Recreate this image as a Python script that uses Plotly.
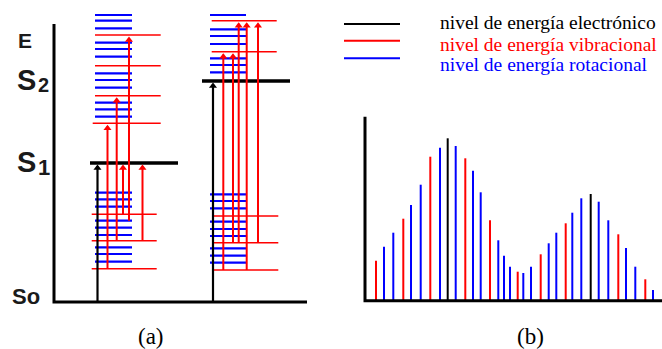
import plotly.graph_objects as go

# ---------------- Panel (a): energy-level diagram ----------------
# energies measured upward from the So baseline (arbitrary units)
electronic_levels = {"S1": 139, "S2": 221}

left_vib_low = [87.7, 61.3, 33.3]
left_vib_high = [267, 236.3, 206.3, 178.7]
left_rot_low = [109.3, 102.7, 95.3, 81.3, 74.3, 67, 54.7, 48, 40.3]
left_rot_high = [287, 281.3, 273.7, 259.3, 253, 245.3, 228.7, 222, 214.3, 199.3, 192.7, 185.3]

right_vib_low = [86, 59.3, 32]
right_vib_high = [281.3, 250.3]
right_rot_low = [107.7, 101, 93.7, 80.3, 73, 66, 53.7, 46.3, 39.3]
right_rot_high = [287, 272.7, 266, 258, 243.7, 237, 229.7]

# transitions: (from energy, to energy)
left_transitions = [(33.3, 178.7), (61.3, 206.3), (87.7, 139), (81.3, 267), (61.3, 139)]
right_transitions = [(32, 250.3), (59.3, 250.3), (59.3, 281.3), (32, 281.3), (59.3, 281.3)]
electronic_transitions = [(0, 139), (0, 221)]

level_labels = ["E", "S", "2", "S", "1", "So"]
panel_labels = ["(a)", "(b)"]

# ---------------- Panel (b): spectrum ----------------
spec_x = [376, 384, 393.3, 403.3, 411, 420.7, 430.3, 440, 447.7, 455.7, 465.3, 473,
          480.7, 490, 498.3, 504, 510, 517.7, 523.3, 531, 540.7, 548.7, 556.3, 565.7,
          572.3, 581.3, 590.7, 598.7, 608.3, 618.3, 626, 635.3, 645.3, 653]
spec_top = [260.7, 246.7, 232.7, 218.7, 205, 184.7, 156.7, 147.7, 138.3, 146, 158.3, 170.7,
            192.3, 220.3, 240.3, 255.7, 266.7, 271.7, 273, 266.7, 254.3, 243.3, 232.7, 223.3,
            212.7, 198.3, 194, 201.7, 220.3, 234.3, 248, 266.7, 279.3, 290]
spec_kind = ["v", "r", "r", "v", "r", "r", "v", "r", "e", "r", "v", "r",
             "r", "v", "r", "r", "r", "v", "r", "r", "v", "r", "r", "v",
             "r", "r", "e", "r", "r", "v", "r", "r", "v", "r"]
SPEC_BASE = 300.7
spec_intensity = [SPEC_BASE - t for t in spec_top]

legend_labels = ["nivel de energía electrónico", "nivel de energía vibracional",
                 "nivel de energía rotacional"]

BLACK, RED, BLUE = "#000000", "#ff0000", "#0000ff"
kind_color = {"e": BLACK, "v": RED, "r": BLUE}

fig = go.Figure()


def segs(levels, x0, x1):
    xs, ys = [], []
    for e in levels:
        xs += [x0, x1, None]
        ys += [e, e, None]
    return xs, ys


def add_lines(xs, ys, color, width, xa="x", ya="y"):
    fig.add_trace(go.Scatter(x=xs, y=ys, mode="lines", xaxis=xa, yaxis=ya,
                             line=dict(color=color, width=width),
                             hoverinfo="skip", showlegend=False))


# rotational levels (blue)
for lv, x0, x1 in [(left_rot_low, 95, 132), (left_rot_high, 95, 132),
                   (right_rot_low, 210, 246), (right_rot_high, 210, 246)]:
    add_lines(*segs(lv, x0, x1), BLUE, 2.2)

# vibrational levels (red)
for lv, x0, x1 in [(left_vib_low, 91.7, 156.7), (left_vib_high[:3], 95, 160.7),
                   (left_vib_high[3:], 92.7, 160.7),
                   (right_vib_low, 213.3, 278.3), (right_vib_high, 211.7, 276.7)]:
    add_lines(*segs(lv, x0, x1), RED, 1.6)

# electronic levels (black)
add_lines(*segs([electronic_levels["S1"]], 90, 178), BLACK, 3.5)
add_lines(*segs([electronic_levels["S2"]], 202, 290), BLACK, 3.5)


def arrows(trans, xpos, color, width):
    xs, ys, hx, hy = [], [], [], []
    for (e0, e1), x in zip(trans, xpos):
        xs += [x, x, None]
        ys += [e0, e1 - 3, None]
        hx.append(x)
        hy.append(e1 - 5)
    add_lines(xs, ys, color, width)
    fig.add_trace(go.Scatter(x=hx, y=hy, mode="markers", xaxis="x", yaxis="y",
                             marker=dict(symbol="triangle-up", size=7, color=color),
                             hoverinfo="skip", showlegend=False))


arrows(left_transitions, [107.5, 116.7, 123, 129, 142.5], RED, 2)
arrows(right_transitions, [223.3, 233, 238.7, 246.7, 258], RED, 2)
arrows(electronic_transitions, [97.5, 213], BLACK, 2.2)

# axes of panel (a)
add_lines([54, 54, 307], [278, 0, 0], BLACK, 3)

# labels panel (a)
lab_font = dict(family="Liberation Sans", color="#1a1a1a")


def label(txt, x, yc, size):
    fig.add_annotation(x=x, y=302 - yc, text="<b>" + txt + "</b>", xref="x", yref="y",
                       xanchor="left", yanchor="middle", showarrow=False,
                       font=dict(size=size, **lab_font))


label(level_labels[0], 16, 40, 21)
label(level_labels[1], 15, 80, 29)
label(level_labels[2], 36, 85, 20)
label(level_labels[3], 15, 162, 29)
label(level_labels[4], 36, 167, 22)
label(level_labels[5], 10, 296, 22)
fig.add_annotation(x=151, y=302 - 336, text=panel_labels[0], xref="x", yref="y",
                   showarrow=False, font=dict(family="Liberation Serif", size=23, color="black"))

# ---------------- panel (b) ----------------
for k in ["r", "v", "e"]:
    xs, ys = [], []
    for x, h, kk in zip(spec_x, spec_intensity, spec_kind):
        if kk == k:
            xs += [x, x, None]
            ys += [0, h, None]
    add_lines(xs, ys, kind_color[k], 2, "x2", "y2")

add_lines([365, 365, 662], [SPEC_BASE - 116.7, 0, 0], BLACK, 3, "x2", "y2")

fig.add_annotation(x=530, y=SPEC_BASE - 336, text=panel_labels[1], xref="x2", yref="y2",
                   showarrow=False, font=dict(family="Liberation Serif", size=23, color="black"))

# legend
leg_line_y = [24, 40.7, 58.3]
leg_text_y = [22.7, 44.3, 64]
leg_colors = [BLACK, RED, BLUE]
for ly, ty, c, t in zip(leg_line_y, leg_text_y, leg_colors, legend_labels):
    add_lines([344, 400], [SPEC_BASE - ly, SPEC_BASE - ly], c, 2, "x2", "y2")
    fig.add_annotation(x=438, y=SPEC_BASE - ty, text=t, xref="x2", yref="y2",
                       xanchor="left", yanchor="middle", showarrow=False,
                       font=dict(family="Liberation Serif", size=19.5, color=c))

W, H = 662, 349
fig.update_layout(
    width=W, height=H, margin=dict(l=0, r=0, t=0, b=0),
    paper_bgcolor="white", plot_bgcolor="white",
    xaxis=dict(domain=[0, 331 / W], range=[0, 331], visible=False, fixedrange=True),
    yaxis=dict(domain=[0, 1], range=[-47, 302], visible=False, fixedrange=True),
    xaxis2=dict(domain=[331 / W, 1], range=[331, 662], visible=False, fixedrange=True),
    yaxis2=dict(domain=[0, 1], range=[SPEC_BASE - H, SPEC_BASE], visible=False,
                fixedrange=True, anchor="x2"),
)

fig.write_html("out.html", config={"displayModeBar": False},
               post_script="document.body.style.margin='0';document.body.style.overflow='hidden';")
